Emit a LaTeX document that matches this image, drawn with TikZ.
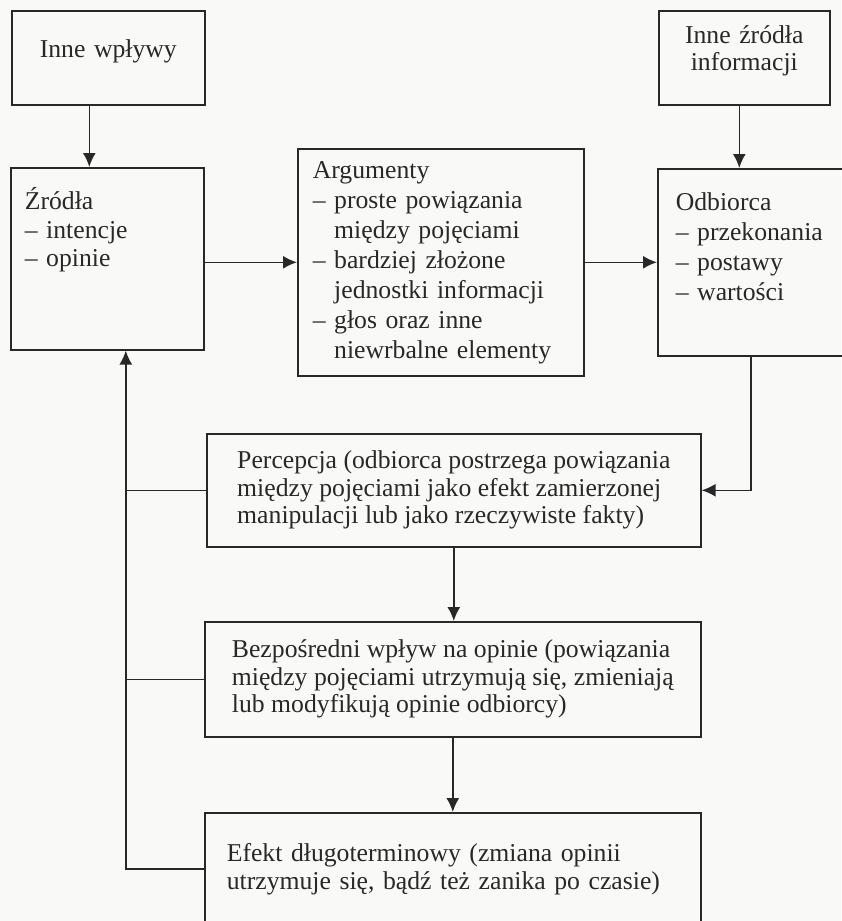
\documentclass[tikz,border=0pt]{standalone}
\usepackage{fontspec}
\setmainfont{Liberation Serif}
\usetikzlibrary{arrows.meta}
\definecolor{ink}{RGB}{40,40,40}
\definecolor{paper}{RGB}{249,249,247}
\newcommand{\wciecie}{\hphantom{–~}}
\begin{document}
\begin{tikzpicture}[x=1pt, y=-1pt,
  box/.style={draw=ink, line width=1.6pt, anchor=north west, inner ysep=0pt, text=ink},
  arr/.style={draw=ink, line width=1.6pt, -{Latex[length=14pt,width=13pt]}},
  link/.style={draw=ink, line width=1.6pt},
  duzy/.style={font=\fontsize{25.7}{30}\selectfont},
  maly/.style={font=\fontsize{25.7}{27.5}\selectfont}]
\useasboundingbox (0,0) rectangle (841,921);
\fill[paper] (0,0) rectangle (841,921);
\node[box, duzy, align=center, inner xsep=12pt, text width=169pt, text height=47pt, text depth=47pt] (wplywy) at (11,10) {Inne wpływy};
\node[box, align=center, inner xsep=10pt, text width=151pt, text height=33pt, text depth=61pt, font=\fontsize{25.7}{27}\selectfont] (inneinfo) at (658,10) {Inne źródła\\informacji};
\node[box, align=left, inner xsep=14pt, text width=165pt, text height=42pt, text depth=140pt, font=\fontsize{25.7}{28.5}\selectfont] (zrodla) at (10,167) {Źródła\\– intencje\\– opinie};
\node[box, duzy, align=left, inner xsep=15pt, text width=256pt, text height=30pt, text depth=197pt] (argumenty) at (297,148) {Argumenty\\– proste powiązania\\\wciecie między pojęciami\\– bardziej złożone\\\wciecie jednostki informacji\\– głos oraz inne\\\wciecie niewrbalne elementy};
\node[box, duzy, align=left, inner xsep=18pt, text width=150pt, text height=42pt, text depth=145pt] (odbiorca) at (657,168) {Odbiorca\\– przekonania\\– postawy\\– wartości};
\node[box, maly, align=left, minimum width=494pt, minimum height=113pt] (percepcja) at (206,433) {Percepcja (odbiorca postrzega powiązania\\między pojęciami jako efekt zamierzonej\\manipulacji lub jako rzeczywiste fakty)};
\node[box, maly, align=left, minimum width=496pt, minimum height=115pt] (bezposredni) at (204,621) {Bezpośredni wpływ na opinie (powiązania\\między pojęciami utrzymują się, zmieniają\\lub modyfikują opinie odbiorcy)};
\node[box, align=left, inner xsep=22pt, text width=452pt, minimum height=112pt, font=\fontsize{25.7}{28}\selectfont] (efekt) at (204,812) {Efekt długoterminowy (zmiana opinii\\utrzymuje się, bądź też zanika po czasie)};
\draw[arr] ([xshift=-19pt]wplywy.south) -- ([xshift=-19pt]wplywy.south |- zrodla.north);
\draw[arr] ([xshift=-5pt]inneinfo.south) -- ([xshift=-5pt]inneinfo.south |- odbiorca.north);
\draw[arr] (zrodla.east |- argumenty.west) -- (argumenty.west);
\draw[arr] (argumenty.east) -- (argumenty.east -| odbiorca.west);
\draw[arr] (odbiorca.south) |- (percepcja.east);
\draw[arr] (percepcja.south) -- (percepcja.south |- bezposredni.north);
\draw[arr] (bezposredni.south) -- (bezposredni.south |- efekt.north);
\coordinate (petla) at ([xshift=18.5pt]zrodla.south);
\draw[arr] (efekt.west) -| (petla);
\draw[link] (percepcja.west) -- (percepcja.west -| petla);
\draw[link] (bezposredni.west) -- (bezposredni.west -| petla);
\end{tikzpicture}
\end{document}
